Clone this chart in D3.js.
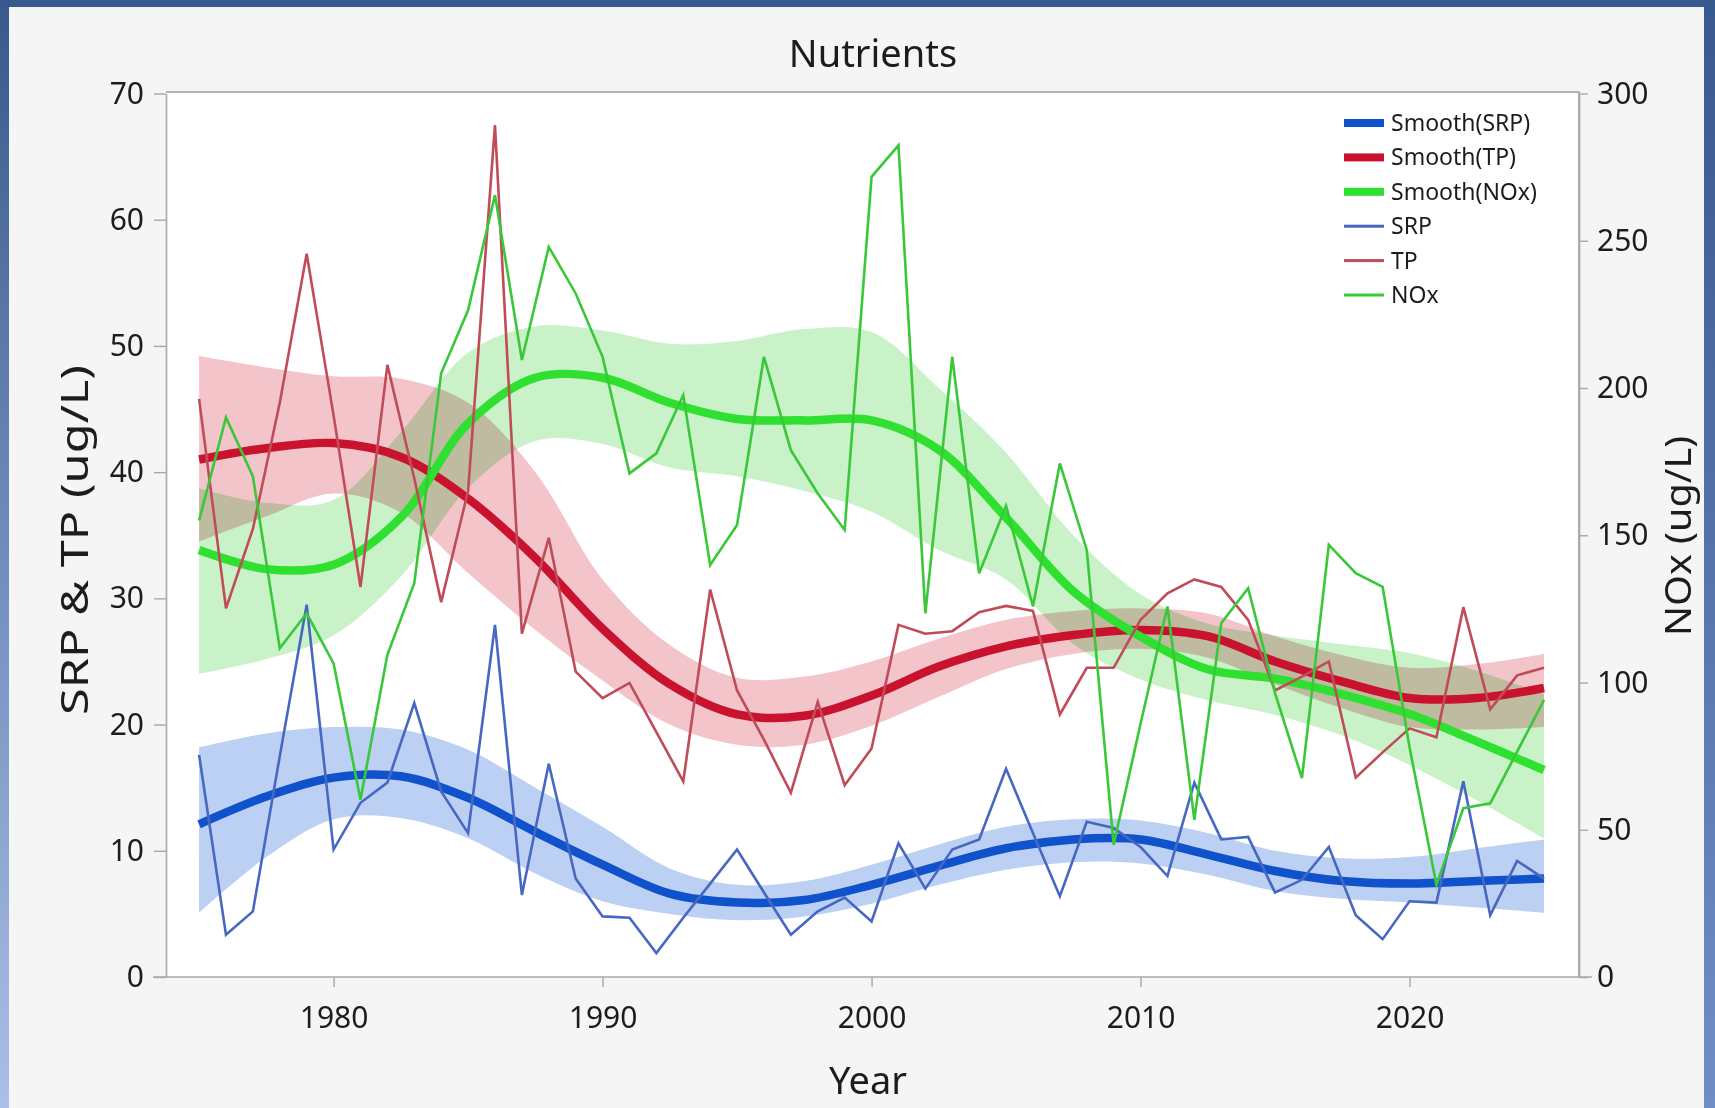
<!DOCTYPE html>
<html>
<head>
<meta charset="utf-8">
<script src="https://cdn.jsdelivr.net/npm/d3@7"></script>
<style>
body { margin: 0; background: #f5f5f5; }
svg text { font-family: "Segoe UI", "Noto Sans", "Open Sans", sans-serif; fill: #1c1c1c; }
</style>
</head>
<body>
<div id="chart"></div>
<script>
var width = 1715, height = 1108;

// yearly values
var years = d3.range(1975, 2026);
var srp = [17.6, 3.35, 5.2, 17.5, 29.5, 10.1, 13.8, 15.4, 21.7, 14.7,
    11.4, 27.9, 6.5, 16.9, 7.8, 4.8, 4.7, 1.9, 4.7, 7.4,
    10.1, 6.7, 3.35, 5.2, 6.3, 4.4, 10.6, 7.0, 10.1, 10.9,
    16.5, 11.4, 6.4, 12.3, 11.8, 10.3, 8.0, 15.4, 10.9, 11.1,
    6.7, 7.7, 10.3, 4.9, 3.0, 6.0, 5.9, 15.5, 4.9, 9.2, 7.8];
var tp = [45.8, 29.2, 35.5, 45.5, 57.3, 44.5, 30.9, 48.5, 39.5, 29.7,
    38.5, 67.5, 27.2, 34.8, 24.2, 22.1, 23.3, 19.4, 15.5, 30.7,
    22.7, 18.8, 14.6, 21.8, 15.2, 18.1, 27.9, 27.2, 27.4, 28.9,
    29.4, 29.0, 20.8, 24.5, 24.5, 28.3, 30.4, 31.5, 30.9, 28.3,
    22.7, 23.8, 25.0, 15.8, 17.8, 19.7, 19.0, 29.3, 21.2, 23.9, 24.5];
var nox = [155, 190, 170, 111.6, 123.5, 106.5, 60.2, 109.4, 133.7, 205,
    226.4, 265.5, 209.5, 247.9, 232.1, 210.6, 171, 177.8, 197.6, 139.9,
    153.5, 210.6, 178.9, 164.2, 151.8, 271.7, 282.4, 123.5, 210.6, 137.1,
    160, 125.8, 174.4, 145, 44.9, 86, 125.8, 53.4, 120.1, 132,
    96.4, 67.5, 146.7, 137.1, 132.5, 78, 31.3, 57.3, 59.0, 76.5, 94.1];

// smoothers and their bands, read every 2.5 years
var smoothYears = d3.range(1975, 2025.1, 2.5);
var srpSmooth = [12.1, 14.3, 15.8, 15.9, 14.2, 11.5, 8.9, 6.6, 5.9, 6.1, 7.3, 8.8, 10.2, 10.9, 10.9, 9.7, 8.4, 7.6, 7.4, 7.6, 7.8];
var srpLow = [5.1, 9.5, 12.5, 12.6, 11.0, 8.2, 6.0, 5.0, 4.5, 4.8, 5.8, 7.3, 8.5, 9.1, 9.0, 8.1, 6.8, 6.2, 5.9, 5.5, 5.1];
var srpHigh = [18.2, 19.3, 19.8, 19.6, 18.0, 15.0, 11.9, 8.6, 7.3, 7.6, 8.9, 10.5, 11.9, 12.5, 12.4, 11.4, 10.0, 9.4, 9.5, 10.2, 10.9];
var tpSmooth = [41.0, 41.9, 42.3, 41.2, 37.9, 33.2, 27.6, 23.2, 20.8, 20.7, 22.3, 24.6, 26.2, 27.1, 27.5, 27.0, 25.0, 23.4, 22.1, 22.1, 22.9];
var tpLow = [34.5, 36.5, 38.3, 36.8, 32.0, 27.5, 23.5, 20.0, 18.4, 18.4, 19.9, 22.2, 24.4, 25.6, 26.0, 25.3, 23.2, 21.3, 19.8, 19.6, 19.8];
var tpHigh = [49.2, 48.3, 47.6, 47.4, 45.5, 40.0, 31.5, 26.3, 23.7, 23.8, 25.0, 26.8, 28.3, 29.0, 29.2, 28.8, 27.0, 25.5, 24.5, 24.8, 25.6];
var noxSmooth = [145, 138.5, 140, 156, 188, 203.5, 203.5, 195, 189.5, 189, 189, 179, 156, 131, 115.6, 104.5, 101.3, 96, 89.3, 80, 70.3];
var noxLow = [103, 108, 116, 136, 166, 182, 181, 173, 170, 165, 158, 145, 135, 113, 101, 94, 89, 82, 72, 60, 47];
var noxHigh = [166, 161, 162, 185, 212, 221, 219.5, 215, 216, 220, 219, 200, 178, 150, 130, 120, 116, 113, 110, 104, 96];

var leftTicks = [0, 10, 20, 30, 40, 50, 60, 70];
var rightTicks = [0, 50, 100, 150, 200, 250, 300];
var yearTicks = [1980, 1990, 2000, 2010, 2020];
var legendLabels = ["Smooth(SRP)", "Smooth(TP)", "Smooth(NOx)", "SRP", "TP", "NOx"];

var plot = { left: 166, right: 1579, top: 92, bottom: 977 };
var colors = {
    srpSmooth: "#1052cb", tpSmooth: "#c8122e", noxSmooth: "#30e030",
    srp: "#4668c2", tp: "#c04b59", nox: "#38c838",
    srpBand: "#bcd0f3", tpBand: "#f3c5cb", noxBand: "#c9f2c9"
};

var svg = d3.select("#chart").append("svg").attr("width", width).attr("height", height);

// window frame
var defs = svg.append("defs");
var grad = defs.append("linearGradient").attr("id", "frame").attr("x1", 0).attr("y1", 0).attr("x2", 0).attr("y2", 1);
grad.append("stop").attr("offset", "0%").attr("stop-color", "#38598d");
grad.append("stop").attr("offset", "100%").attr("stop-color", "#a9c0e8");
var gradR = defs.append("linearGradient").attr("id", "frameR").attr("x1", 0).attr("y1", 0).attr("x2", 0).attr("y2", 1);
gradR.append("stop").attr("offset", "0%").attr("stop-color", "#38598d");
gradR.append("stop").attr("offset", "100%").attr("stop-color", "#6f8ec6");

svg.append("rect").attr("width", width).attr("height", height).attr("fill", "url(#frame)");
svg.append("rect").attr("x", 1700).attr("width", 15).attr("height", height).attr("fill", "url(#frameR)");
svg.append("rect").attr("width", width).attr("height", 8).attr("fill", "#38598d");
svg.append("rect").attr("x", 9).attr("y", 7).attr("width", 1695).attr("height", height - 7).attr("fill", "#f5f5f5");

var x = d3.scaleLinear().domain([1975 - 1.23, 2025 + 1.3]).range([plot.left, plot.right]);
var yL = d3.scaleLinear().domain([0, 70]).range([plot.bottom, 93.5]);
var yR = d3.scaleLinear().domain([0, 300]).range([plot.bottom, 93.5]);

svg.append("rect")
    .attr("x", plot.left).attr("y", plot.top)
    .attr("width", plot.right - plot.left).attr("height", plot.bottom - plot.top)
    .attr("fill", "white");

function bandData(lo, hi) {
    return smoothYears.map(function (y, i) { return { year: y, lo: lo[i], hi: hi[i] }; });
}
function lineData(xs, vs) {
    return xs.map(function (y, i) { return { year: y, v: vs[i] }; });
}

var bands = svg.append("g").style("isolation", "isolate");

function band(scale) {
    return d3.area()
        .x(function (d) { return x(d.year); })
        .y0(function (d) { return scale(d.lo); })
        .y1(function (d) { return scale(d.hi); })
        .curve(d3.curveCatmullRom);
}

bands.append("path").datum(bandData(srpLow, srpHigh))
    .attr("d", band(yL)).attr("fill", colors.srpBand).style("mix-blend-mode", "multiply");
bands.append("path").datum(bandData(tpLow, tpHigh))
    .attr("d", band(yL)).attr("fill", colors.tpBand).style("mix-blend-mode", "multiply");
bands.append("path").datum(bandData(noxLow, noxHigh))
    .attr("d", band(yR)).attr("fill", colors.noxBand).style("mix-blend-mode", "multiply");

function lineFor(scale, curve) {
    return d3.line()
        .x(function (d) { return x(d.year); })
        .y(function (d) { return scale(d.v); })
        .curve(curve);
}

var smoothLine = [
    { data: lineData(smoothYears, srpSmooth), scale: yL, color: colors.srpSmooth },
    { data: lineData(smoothYears, tpSmooth), scale: yL, color: colors.tpSmooth },
    { data: lineData(smoothYears, noxSmooth), scale: yR, color: colors.noxSmooth }
];
smoothLine.forEach(function (s) {
    svg.append("path").datum(s.data)
        .attr("d", lineFor(s.scale, d3.curveCatmullRom))
        .attr("fill", "none")
        .attr("stroke", s.color)
        .attr("stroke-width", 8.5)
        .attr("stroke-linecap", "butt");
});

var rawLine = [
    { data: lineData(years, srp), scale: yL, color: colors.srp },
    { data: lineData(years, tp), scale: yL, color: colors.tp },
    { data: lineData(years, nox), scale: yR, color: colors.nox }
];
rawLine.forEach(function (s) {
    svg.append("path").datum(s.data)
        .attr("d", lineFor(s.scale, d3.curveLinear))
        .attr("fill", "none")
        .attr("stroke", s.color)
        .attr("stroke-width", 2.6)
        .attr("stroke-linejoin", "miter");
});

// frame top / right
svg.append("path")
    .attr("d", "M" + plot.left + "," + plot.top + "H" + plot.right + "V" + plot.bottom)
    .attr("fill", "none").attr("stroke", "#b2b2b2").attr("stroke-width", 2);

// axes
function styleAxis(g) {
    g.select(".domain").attr("stroke", "#a8a8a8").attr("stroke-width", 1.6);
    g.selectAll(".tick line").attr("stroke", "#a8a8a8").attr("stroke-width", 1.4);
    g.selectAll(".tick text").attr("font-size", 30).attr("fill", "#222");
}

svg.append("g")
    .attr("transform", "translate(" + plot.left + ",0)")
    .call(d3.axisLeft(yL).tickValues(leftTicks).tickSize(12).tickSizeOuter(0).tickPadding(10))
    .call(styleAxis);

svg.append("g")
    .attr("transform", "translate(" + plot.right + ",0)")
    .call(d3.axisRight(yR).tickValues(rightTicks).tickSize(9).tickSizeOuter(0).tickPadding(9))
    .call(styleAxis);

var xAxis = svg.append("g")
    .attr("transform", "translate(0," + plot.bottom + ")")
    .call(d3.axisBottom(x).tickValues(yearTicks).tickFormat(d3.format("d")).tickSize(10).tickSizeOuter(0).tickPadding(20))
    .call(styleAxis);
xAxis.select(".domain").attr("d", "M" + (plot.left - 13) + ",0H" + (plot.right + 13));

// titles
svg.append("text").attr("x", 873).attr("y", 67)
    .attr("text-anchor", "middle").attr("font-size", 38).text("Nutrients");
svg.append("text").attr("x", 868).attr("y", 1094)
    .attr("text-anchor", "middle").attr("font-size", 38).text("Year");
svg.append("text").attr("transform", "translate(88,540) rotate(-90)")
    .attr("text-anchor", "middle").attr("font-size", 38)
    .attr("textLength", 350).attr("lengthAdjust", "spacingAndGlyphs")
    .text("SRP & TP (ug/L)");
svg.append("text").attr("transform", "translate(1691,536) rotate(-90)")
    .attr("text-anchor", "middle").attr("font-size", 36)
    .attr("textLength", 200).attr("lengthAdjust", "spacingAndGlyphs")
    .text("NOx (ug/L)");

// legend
var legendColors = [colors.srpSmooth, colors.tpSmooth, colors.noxSmooth, colors.srp, colors.tp, colors.nox];
var legend = svg.append("g").attr("transform", "translate(1344,123)");
var rows = legend.selectAll("g").data(legendLabels).enter().append("g")
    .attr("transform", function (d, i) { return "translate(0," + (i * 34.4) + ")"; });
rows.append("rect")
    .attr("x", 0).attr("width", 40)
    .attr("y", function (d, i) { return i < 3 ? -4 : -1.5; })
    .attr("height", function (d, i) { return i < 3 ? 8 : 3; })
    .attr("fill", function (d, i) { return legendColors[i]; });
rows.append("text").attr("x", 47).attr("y", 8)
    .attr("font-size", 23).attr("fill", "#222")
    .text(function (d) { return d; });
</script>
</body>
</html>
